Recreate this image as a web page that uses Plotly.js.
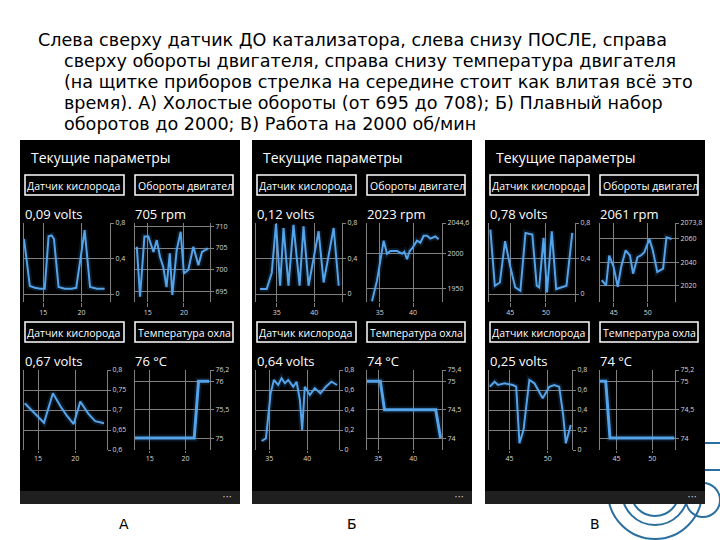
<!DOCTYPE html>
<html><head><meta charset="utf-8">
<script src="https://cdn.plot.ly/plotly-3.0.1.min.js"></script>
<style>html,body{margin:0;padding:0;background:#fff}#chart{width:720px;height:540px}</style>
</head><body><div id="chart"></div>
<script>
// ---------- texts ----------
const titleLines = [
 'Слева сверху датчик ДО катализатора, слева снизу ПОСЛЕ, справа',
 'сверху обороты двигателя, справа снизу температура двигателя',
 '(на щитке приборов стрелка на середине стоит как влитая всё это',
 'время). А) Холостые обороты (от 695 до 708); Б) Плавный набор',
 'оборотов до 2000; В) Работа на 2000 об/мин'
];
const phoneLetters = ['А', 'Б', 'В'];
const screenTitle = 'Текущие параметры';
const topButtons = ['Датчик кислорода', 'Обороты двигател'];
const bottomButtons = ['Датчик кислорода', 'Температура охла'];
const valueLabelsA = ['0,09 volts', '705 rpm', '0,67 volts', '76 °C'];
const valueLabelsB = ['0,12 volts', '2023 rpm', '0,64 volts', '74 °C'];
const valueLabelsV = ['0,78 volts', '2061 rpm', '0,25 volts', '74 °C'];

// ---------- tick labels ----------
const xTicksA = [15, 20], xTicksB = [35, 40], xTicksV = [45, 50];
const o2TopTicks = [0, 0.4, 0.8], o2TopText = ['0', '0,4', '0,8'];
const o2BotTicksA = [0.6, 0.65, 0.7, 0.75, 0.8], o2BotTextA = ['0,6', '0,65', '0,7', '0,75', '0,8'];
const o2BotTicks = [0, 0.2, 0.4, 0.6, 0.8], o2BotText = ['0', '0,2', '0,4', '0,6', '0,8'];
const rpmTicksA = [695, 700, 705, 710], rpmTextA = ['695', '700', '705', '710'];
const rpmTicksB = [1950, 2000, 2044.6], rpmTextB = ['1950', '2000', '2044,6'];
const rpmTicksV = [2020, 2040, 2060, 2073.8], rpmTextV = ['2020', '2040', '2060', '2073,8'];
const tempTicksA = [75, 75.5, 76, 76.2], tempTextA = ['75', '75,5', '76', '76,2'];
const tempTicksB = [74, 74.5, 75, 75.2], tempTextB = ['74', '74,5', '75', '75,4'];
const tempTicksV = [74, 74.5, 75, 75.2], tempTextV = ['74', '74,5', '75', '75,2'];

// ---------- series: A (idle) ----------
const aO2preX = [12.5, 13.26, 13.9, 14.6, 15.2, 15.7, 16.1, 16.4, 17.0, 17.8, 18.7, 19.3, 20.4, 21.1, 22.0, 23.0];
const aO2preY = [0.62, 0.09, 0.07, 0.06, 0.06, 0.65, 0.66, 0.62, 0.08, 0.06, 0.06, 0.07, 0.72, 0.08, 0.06, 0.06];
const aRpmX = [13.5, 13.95, 14.55, 15.1, 15.8, 16.25, 16.7, 17.15, 17.6, 18.05, 18.4, 19.0, 19.55, 20.0, 20.6, 21.3, 22.0, 22.5, 23.35];
const aRpmY = [705.3, 693.9, 707.6, 707.6, 704.1, 706.8, 703.0, 700.7, 696.1, 703.8, 694.3, 704.5, 708.7, 699.2, 700.0, 705.3, 701.1, 704.1, 704.9];
const aO2postX = [13.2, 14.1, 15.0, 15.8, 17.0, 18.0, 18.9, 19.8, 20.7, 21.8, 22.7, 23.9];
const aO2postY = [0.717, 0.70, 0.685, 0.668, 0.742, 0.71, 0.685, 0.665, 0.721, 0.69, 0.672, 0.667];
const aTempX = [12.95, 21.2, 21.8, 23.3];
const aTempY = [75, 75, 76, 76];

// ---------- series: Б (ramp up) ----------
const bO2preX = [32.77, 33.66, 34.33, 34.9, 35.45, 35.9, 36.56, 37.23, 38.04, 38.57, 39.24, 40.58, 41.25, 42.59, 43.26];
const bO2preY = [0.056, 0.056, 0.24, 0.79, 0.093, 0.744, 0.093, 0.78, 0.093, 0.763, 0.093, 0.707, 0.13, 0.744, 0.093];
const bRpmX = [33.85, 34.6, 35.6, 36.1, 36.6, 37.6, 38.35, 38.7, 39.1, 39.5, 39.95, 40.6, 41.1, 41.6, 42.1, 42.6, 43.35, 43.85];
const bRpmY = [1931, 1961, 2019, 2000, 2004, 2004, 2000, 2003, 1992, 2004, 2009, 2019, 2016, 2026, 2026, 2022, 2025, 2021];
const bO2postX = [33.99, 34.56, 35.18, 35.61, 36.18, 36.62, 37.06, 37.5, 38.16, 38.6, 39.04, 39.34, 39.69, 40.35, 41.0, 41.75, 42.46, 43.2, 43.95];
const bO2postY = [0.09, 0.117, 0.567, 0.7, 0.65, 0.717, 0.667, 0.7, 0.633, 0.683, 0.5, 0.2, 0.633, 0.55, 0.617, 0.567, 0.633, 0.683, 0.65];
const bTempX = [33.4, 35.3, 35.9, 43.2, 43.9];
const bTempY = [75, 75, 74.5, 74.5, 74];

// ---------- series: В (2000 rpm) ----------
const vO2preX = [42.24, 42.86, 43.57, 44.29, 45.0, 45.71, 46.43, 47.14, 48.1, 48.71, 49.05, 49.67, 50.14, 50.81, 51.43, 52.14, 52.86, 53.67];
const vO2preY = [0.726, 0.093, 0.13, 0.595, 0.316, 0.074, 0.037, 0.688, 0.67, 0.093, 0.074, 0.633, 0.019, 0.707, 0.056, 0.074, 0.093, 0.688];
const vRpmX = [43.25, 43.9, 44.35, 45.0, 45.6, 46.1, 46.75, 47.4, 47.85, 48.5, 49.0, 49.5, 50.25, 50.75, 51.4, 52.25, 52.75, 53.5];
const vRpmY = [2024.4, 2020, 2045.7, 2035.7, 2018.6, 2035.7, 2050, 2045.7, 2030, 2044.3, 2045.7, 2048.6, 2060, 2050, 2031.5, 2034.4, 2061.4, 2060];
const vO2postX = [42.39, 43.04, 43.48, 44.35, 45.43, 45.87, 46.3, 46.83, 47.6, 48.26, 49.35, 50.22, 50.87, 51.52, 52.04, 52.39, 53.04];
const vO2postY = [0.633, 0.683, 0.65, 0.667, 0.65, 0.633, 0.067, 0.2, 0.7, 0.667, 0.517, 0.633, 0.65, 0.633, 0.35, 0.067, 0.25];
const vTempX = [42.7, 43.5, 44.1, 53.1];
const vTempY = [75, 75, 74, 74];

// ---------- layout geometry ----------
const W = 720, H = 540;
const px = x => x / W, py = y => 1 - y / H;
const phoneX = [20, 252, 485];
const PW = 220;
const boxes = [[4, 90, 223, 302], [115, 190, 223, 302], [4, 87, 370, 450], [115, 190, 370, 450]];

const charts = [
  // A
  {x: aO2preX, y: aO2preY, xr: [12.5, 23.7], yr: [-0.09, 0.8], xt: xTicksA, yt: o2TopTicks, ytt: o2TopText, w: 2},
  {x: aRpmX, y: aRpmY, xr: [13.25, 23.6], yr: [692.7, 710.7], xt: xTicksA, yt: rpmTicksA, ytt: rpmTextA, w: 2},
  {x: aO2postX, y: aO2postY, xr: [13.1, 24.3], yr: [0.6, 0.8], xt: xTicksA, yt: o2BotTicksA, ytt: o2BotTextA, w: 2},
  {x: aTempX, y: aTempY, xr: [12.95, 23.4], yr: [74.79, 76.2], xt: xTicksA, yt: tempTicksA, ytt: tempTextA, w: 3},
  // Б
  {x: bO2preX, y: bO2preY, xr: [32.23, 43.7], yr: [-0.09, 0.8], xt: xTicksB, yt: o2TopTicks, ytt: o2TopText, w: 2},
  {x: bRpmX, y: bRpmY, xr: [33.1, 44.35], yr: [1930, 2044.6], xt: xTicksB, yt: rpmTicksB, ytt: rpmTextB, w: 2},
  {x: bO2postX, y: bO2postY, xr: [33.25, 44.2], yr: [0, 0.8], xt: xTicksB, yt: o2BotTicks, ytt: o2BotText, w: 2},
  {x: bTempX, y: bTempY, xr: [33.4, 44.1], yr: [73.79, 75.2], xt: xTicksB, yt: tempTicksB, ytt: tempTextB, w: 3},
  // В
  {x: vO2preX, y: vO2preY, xr: [42.05, 54.05], yr: [-0.09, 0.8], xt: xTicksV, yt: o2TopTicks, ytt: o2TopText, w: 2},
  {x: vRpmX, y: vRpmY, xr: [43, 54], yr: [2005.5, 2073.8], xt: xTicksV, yt: rpmTicksV, ytt: rpmTextV, w: 2},
  {x: vO2postX, y: vO2postY, xr: [42.3, 53.2], yr: [0, 0.8], xt: xTicksV, yt: o2BotTicks, ytt: o2BotText, w: 2},
  {x: vTempX, y: vTempY, xr: [42.7, 53.2], yr: [73.79, 75.2], xt: xTicksV, yt: tempTicksV, ytt: tempTextV, w: 3}
];

const GRID = '#808080';
const TICKFONT = {family: 'Open Sans, sans-serif', size: 7, color: '#d8d8d8'};
const UI = 'Open Sans, Noto Sans, sans-serif';
const TITLEFONT = 'DejaVu Sans, sans-serif';

const traces = [];
const layout = {
  width: W, height: H, autosize: false,
  margin: {l: 0, r: 0, t: 0, b: 0, pad: 0},
  paper_bgcolor: '#ffffff', plot_bgcolor: 'rgba(0,0,0,0)',
  showlegend: false, hovermode: false,
  shapes: [], annotations: []
};

charts.forEach((c, i) => {
  const n = i + 1;
  const p = Math.floor(i / 4), k = i % 4;
  const b = boxes[k];
  const x0 = phoneX[p] + b[0], x1 = phoneX[p] + b[1];
  const xa = 'x' + n, ya = 'y' + n;
  traces.push({x: c.x, y: c.y, xaxis: xa, yaxis: ya, mode: 'lines', hoverinfo: 'skip',
    line: {color: 'rgba(60,140,225,0.16)', width: c.w + 4}});
  traces.push({x: c.x, y: c.y, xaxis: xa, yaxis: ya, mode: 'lines', hoverinfo: 'skip',
    line: {color: '#55a3e8', width: c.w}});
  const bottomRow = k >= 2;
  layout['xaxis' + n] = {
    domain: [px(x0), px(x1)], range: c.xr, anchor: ya,
    tickmode: 'array', tickvals: c.xt, ticktext: c.xt.map(String),
    showgrid: true, gridcolor: GRID, gridwidth: 1, zeroline: false, showline: false,
    ticks: 'outside', ticklen: bottomRow ? 2 : 4, tickcolor: GRID, tickwidth: 1,
    tickfont: TICKFONT, fixedrange: true
  };
  layout['yaxis' + n] = {
    domain: [py(b[3]), py(b[2])], range: c.yr, anchor: xa, side: 'right',
    tickmode: 'array', tickvals: c.yt, ticktext: c.ytt,
    showgrid: true, gridcolor: GRID, gridwidth: 1, zeroline: false,
    showline: true, mirror: true, linecolor: GRID, linewidth: 1,
    ticks: 'outside', ticklen: 3, tickcolor: GRID, tickwidth: 1,
    tickfont: TICKFONT, fixedrange: true
  };
});

const S = layout.shapes, A = layout.annotations;
function rect(x0, y0, x1, y1, fill, lineColor, lw) {
  S.push({type: 'rect', xref: 'paper', yref: 'paper', layer: 'below',
    x0: px(x0), x1: px(x1), y0: py(y1), y1: py(y0),
    fillcolor: fill || 'rgba(0,0,0,0)', line: {color: lineColor || 'rgba(0,0,0,0)', width: lw || 0}});
}
function circle(cx, cy, r, color, lw) {
  S.push({type: 'circle', xref: 'paper', yref: 'paper', layer: 'below',
    x0: px(cx - r), x1: px(cx + r), y0: py(cy + r), y1: py(cy - r),
    fillcolor: 'rgba(0,0,0,0)', line: {color: color, width: lw}});
}
function text(t, x, y, size, color, family, xanchor) {
  A.push({text: t, x: px(x), y: py(y), xref: 'paper', yref: 'paper', showarrow: false,
    xanchor: xanchor || 'left', yanchor: 'middle', font: {size: size, color: color, family: family}, borderpad: 0});
}

// decoration (behind phones)
const DECO = '#2b6f9e';
circle(655, 492, 47, DECO, 2);
circle(655, 492, 33, DECO, 2);
circle(655, 492, 24, DECO, 2);
circle(703, 500, 17, DECO, 2);
rect(703, 443, 730, 470, null, DECO, 2);

// phones
const valueSets = [valueLabelsA, valueLabelsB, valueLabelsV];
phoneX.forEach((X, p) => {
  rect(X, 140, X + PW, 491, '#000000');
  rect(X, 491, X + PW, 504, '#1f1f1f');
  rect(X + 5, 175, X + 104, 195, null, '#ffffff', 1.5);
  rect(X + 115, 175, X + 213, 195, null, '#ffffff', 1.5);
  rect(X + 5, 322, X + 104, 342, null, '#ffffff', 1.5);
  rect(X + 115, 322, X + 213, 342, null, '#ffffff', 1.5);
  text(screenTitle, X + 10, 158, 14, '#ffffff', UI);
  text(topButtons[0], X + 6, 185.5, 10.5, '#ffffff', UI);
  text(topButtons[1], X + 117, 185.5, 10.5, '#ffffff', UI);
  text(bottomButtons[0], X + 6, 332.5, 10.5, '#ffffff', UI);
  text(bottomButtons[1], X + 117, 332.5, 10.5, '#ffffff', UI);
  const v = valueSets[p];
  text(v[0], X + 4, 214, 13, '#ffffff', UI);
  text(v[1], X + 114, 214, 13, '#ffffff', UI);
  text(v[2], X + 4, 361, 13, '#ffffff', UI);
  text(v[3], X + 114, 361, 13, '#ffffff', UI);
  text('• • •', X + 212, 497, 5, '#e0e0e0', UI, 'right');
});

// slide title and letters
const titleY = [40, 61, 82, 103, 124];
titleLines.forEach((t, i) => text(t, i === 0 ? 37 : 63, titleY[i], 17.6, '#000000', TITLEFONT));
const letterX = [124, 352, 595];
phoneLetters.forEach((t, i) => text(t, letterX[i], 524, 14, '#000000', TITLEFONT, 'center'));

Plotly.newPlot('chart', traces, layout, {staticPlot: true, displayModeBar: false});
</script>
</body></html>
